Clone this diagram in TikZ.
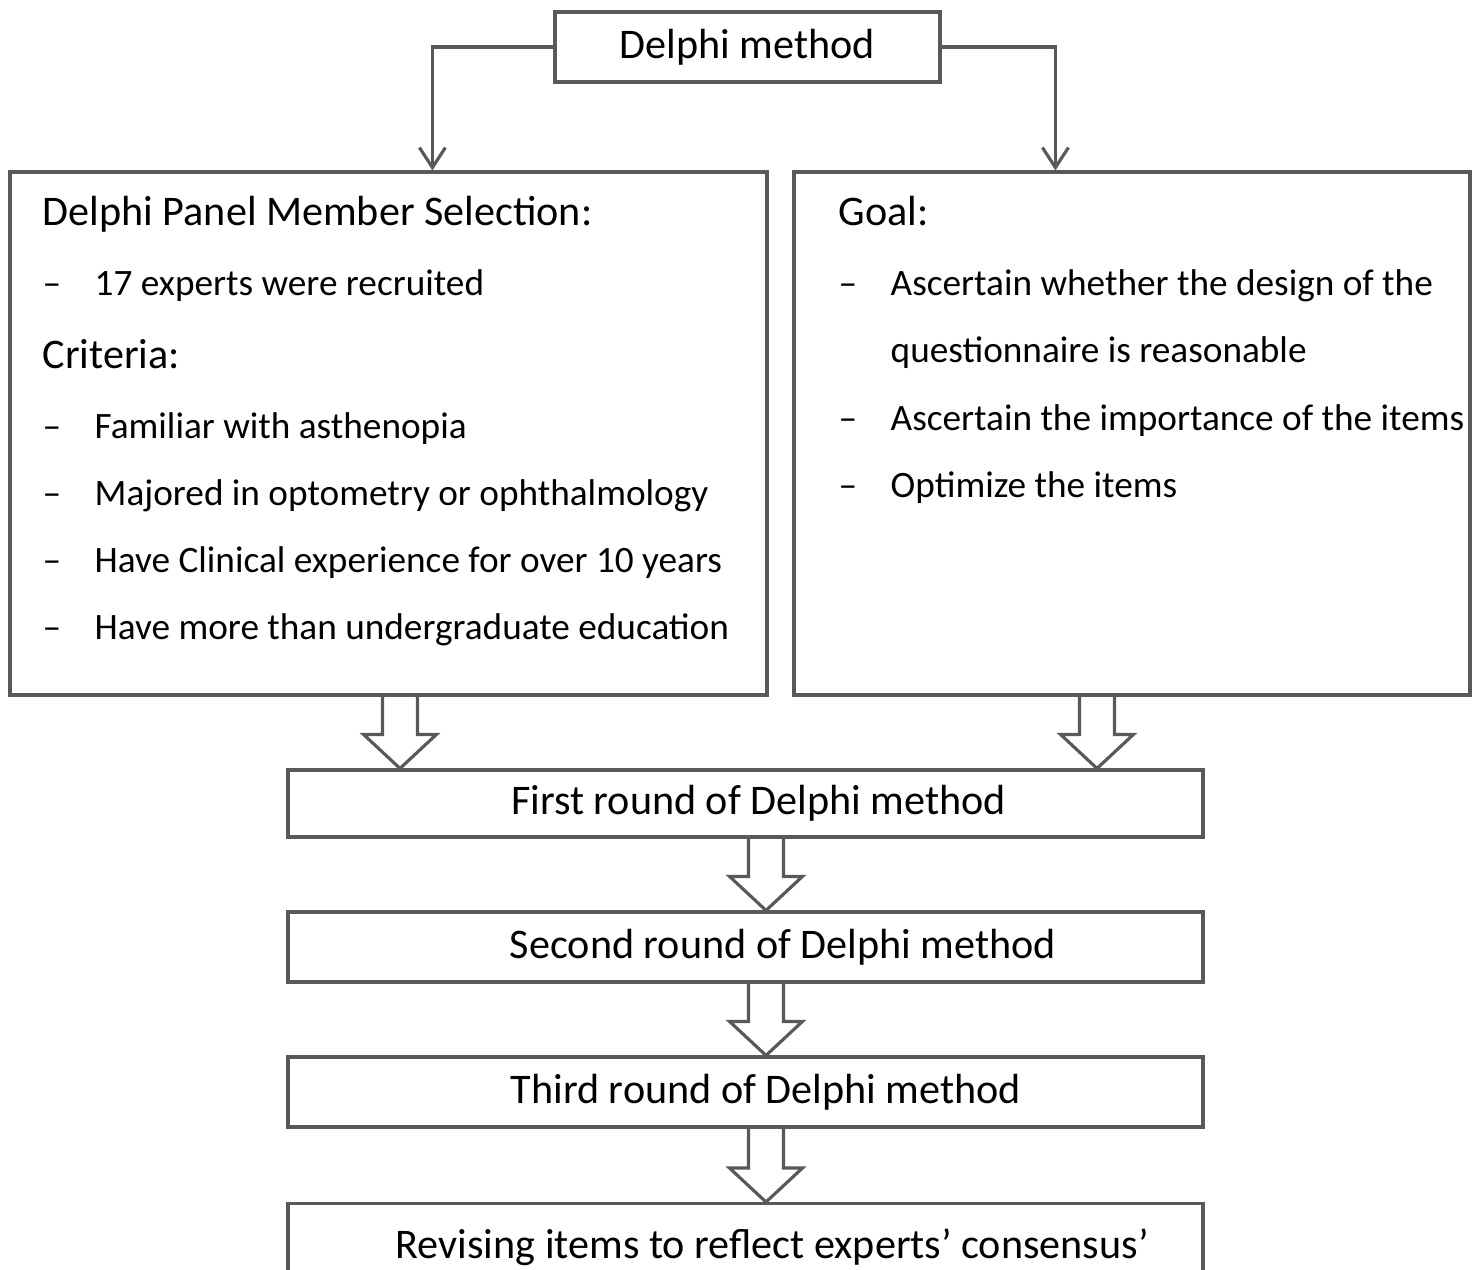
\documentclass[tikz,border=0pt]{standalone}
\usepackage{fontspec}
\setmainfont{Carlito}
\usetikzlibrary{arrows.meta,calc}
\definecolor{linegray}{HTML}{595959}
\newcommand\bigarrow[3]{%
\draw[hollow]($(#1,0 |- #2)+(-.175,0)$)--($(#1,0 |- #3)+(-.175,.34)$)--($(#1,0 |- #3)+(-.365,.34)$)
  --(#1,0 |- #3)--($(#1,0 |- #3)+(.365,.34)$)--($(#1,0 |- #3)+(.175,.34)$)--($(#1,0 |- #2)+(.175,0)$);
}
\begin{document}
\begin{tikzpicture}[>={Straight Barb[length=.2cm,width=.26cm]},
  box/.style={draw=linegray, line width=.9pt, font=\fontsize{12}{14}\selectfont, inner sep=0pt},
  txt/.style={anchor=base west, inner sep=0pt, font=\fontsize{12}{14}\selectfont},
  item/.style={txt, font=\fontsize{10.6}{13}\selectfont},
  link/.style={draw=linegray, line width=.9pt, ->},
  hollow/.style={draw=linegray, line width=.9pt}]
\useasboundingbox (0,0) rectangle (14.83,-12.70);

\node[box, minimum width=3.85cm, minimum height=.70cm] (method) at (7.475,-.47) {Delphi method};
\node[box, minimum width=7.57cm, minimum height=5.23cm] (panel) at (3.885,-4.335) {};
\node[box, minimum width=6.76cm, minimum height=5.23cm] (goal) at (11.32,-4.335) {};
\node[box, minimum width=9.15cm, minimum height=.67cm] (first) at (7.455,-8.035) {\hspace*{.26cm}First round of Delphi method};
\node[box, minimum width=9.15cm, minimum height=.70cm] (second) at (7.455,-9.47) {\hspace*{.75cm}Second round of Delphi method};
\node[box, minimum width=9.15cm, minimum height=.70cm] (third) at (7.455,-10.92) {\hspace*{.41cm}Third round of Delphi method};
\node[box, minimum width=9.15cm, minimum height=1.00cm, anchor=north] (revise) at (7.455,-12.02) {};
\node[txt] (revisetxt) at (3.95,-12.58) {Revising items to reflect experts’ consensus’};

\node[txt] (paneltitle) at (.42,-2.25) {Delphi Panel Member Selection:};
\node[txt] (criteria) at (.42,-3.68) {Criteria:};
\foreach \y/\t [count=\i] in {2.95/17 experts were recruited, 4.38/Familiar with asthenopia,
  5.05/Majored in optometry or ophthalmology, 5.72/Have Clinical experience for over 10 years,
  6.39/Have more than undergraduate education}
{
  \node[item] (pdash\i) at (.42,-\y) {--};
  \node[item] (pitem\i) at (.94,-\y) {\t};
}

\node[txt] (goaltitle) at (8.38,-2.25) {Goal:};
\foreach \y/\t [count=\i] in {2.95/Ascertain whether the design of the,
  4.30/Ascertain the importance of the items, 4.97/Optimize the items}
{
  \node[item] (gdash\i) at (8.38,-\y) {--};
  \node[item] (gitem\i) at (8.90,-\y) {\t};
}
\node[item] (gitem1b) at (8.90,-3.62) {questionnaire is reasonable};

\draw[link] (method.west) -| ($(panel.north west)+(4.24,0)$);
\draw[link] (method.east) -| ($(goal.north west)+(2.63,0)$);

\bigarrow{4.00}{panel.south}{first.north}
\bigarrow{10.97}{goal.south}{first.north}
\bigarrow{7.66}{first.south}{second.north}
\bigarrow{7.66}{second.south}{third.north}
\bigarrow{7.66}{third.south}{revise.north}
\end{tikzpicture}
\end{document}
